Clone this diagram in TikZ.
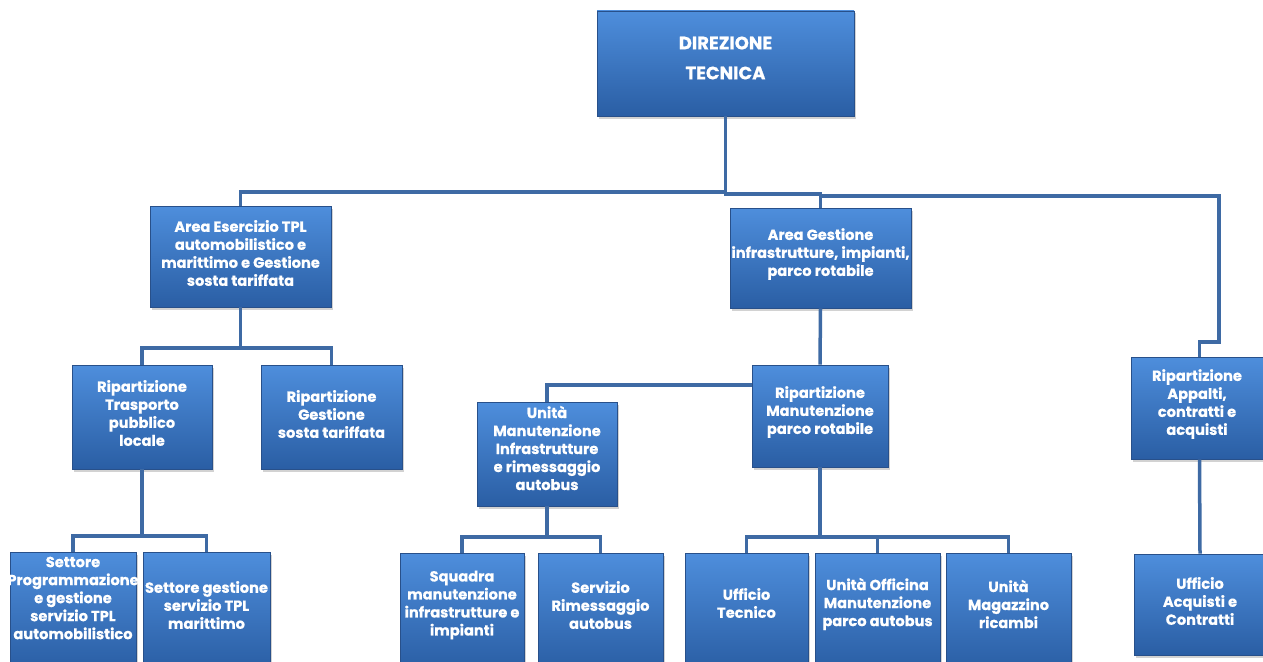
\documentclass[tikz,border=0pt]{standalone}
\usepackage{fontspec}
\setmainfont{Poppins}[BoldFeatures={FakeBold=0.6}]
\usetikzlibrary{shadows}
\definecolor{boxtop}{RGB}{78,142,220}
\definecolor{boxbot}{RGB}{42,94,164}
\definecolor{boxline}{RGB}{40,80,138}
\definecolor{conncol}{RGB}{62,106,164}
\tikzset{
  orgbox/.style={draw=boxline, line width=0.6pt, top color=boxtop, bottom color=boxbot,
    inner sep=0pt, drop shadow={shadow xshift=2pt, shadow yshift=-2.5pt, opacity=0.35}},
  lbl/.style={text=white, font=\bfseries\fontsize{14.6}{18}\selectfont, align=center, inner sep=0pt},
  ttl/.style={text=white, font=\bfseries\fontsize{18}{30}\selectfont, align=center, inner sep=0pt},
  conn/.style={draw=conncol, line width=3.5pt, line join=miter}
}
\begin{document}
\begin{tikzpicture}[x=1pt,y=-1pt]
\fill[white] (0,0) rectangle (1263,661);
\useasboundingbox (0,0) rectangle (1263,661);
% boxes
\node[orgbox, minimum width=257, minimum height=105] (dir) at (725.5,63.5) {};
\node[orgbox, minimum width=181, minimum height=101] (aes) at (240.5,256.5) {};
\node[orgbox, minimum width=181, minimum height=100] (agi) at (820.5,258) {};
\node[orgbox, minimum width=140, minimum height=104] (rtp) at (142,417) {};
\node[orgbox, minimum width=141, minimum height=104] (rgs) at (331.5,417) {};
\node[orgbox, minimum width=126, minimum height=118] (spg) at (73,611) {};
\node[orgbox, minimum width=127, minimum height=118] (sgm) at (206.5,611) {};
\node[orgbox, minimum width=140, minimum height=104] (umi) at (547,454) {};
\node[orgbox, minimum width=136, minimum height=102] (rmp) at (820,416) {};
\node[orgbox, minimum width=124, minimum height=117] (sqm) at (462,611.5) {};
\node[orgbox, minimum width=125, minimum height=117] (sra) at (600.5,611.5) {};
\node[orgbox, minimum width=123, minimum height=117] (uft) at (746.5,611.5) {};
\node[orgbox, minimum width=125, minimum height=117] (uof) at (877.5,611.5) {};
\node[orgbox, minimum width=125, minimum height=117] (umr) at (1008.5,611.5) {};
\node[orgbox, minimum width=137, minimum height=102] (rac) at (1199.5,408) {};
\node[orgbox, minimum width=132, minimum height=101] (uac) at (1200,604.5) {};
% labels
\node[ttl] (dirT) at (725.5,58) {DIREZIONE\\TECNICA};
\node[lbl] (aesT) at (240.5,253) {Area Esercizio TPL\\automobilistico e\\marittimo e Gestione\\sosta tariffata};
\node[lbl] (agiT) at (820.5,254) {Area Gestione\\infrastrutture, impianti,\\parco rotabile};
\node[lbl] (rtpT) at (142,413) {Ripartizione\\Trasporto\\pubblico\\locale};
\node[lbl] (rgsT) at (331.5,414) {Ripartizione\\Gestione\\sosta tariffata};
\node[lbl] (spgT) at (73,598) {Settore\\Programmazione\\e gestione\\servizio TPL\\automobilistico};
\node[lbl] (sgmT) at (206.5,605) {Settore gestione\\servizio TPL\\marittimo};
\node[lbl] (umiT) at (547,448) {Unità\\Manutenzione\\Infrastrutture\\e rimessaggio\\autobus};
\node[lbl] (rmpT) at (820,412) {Ripartizione\\Manutenzione\\parco rotabile};
\node[lbl] (sqmT) at (462,605) {Squadra\\manutenzione\\infrastrutture e\\impianti};
\node[lbl] (sraT) at (600.5,605) {Servizio\\Rimessaggio\\autobus};
\node[lbl] (uftT) at (746.5,603) {Ufficio\\Tecnico};
\node[lbl] (uofT) at (877.5,604) {Unità Officina\\Manutenzione\\parco autobus};
\node[lbl] (umrT) at (1008.5,604) {Unità\\Magazzino\\ricambi};
\node[lbl] (racT) at (1197,404) {Ripartizione\\Appalti,\\contratti e\\acquisti};
\node[lbl] (uacT) at (1200,601) {Ufficio\\Acquisti e\\Contratti};
% bus coordinates
\coordinate (bus1) at (0,192);
\coordinate (bus2) at (0,194);
\coordinate (bus3) at (0,196);
\coordinate (rt2) at (1219,342);
\coordinate (b4) at (0,348);
\coordinate (h1) at (0,385);
\coordinate (b5) at (0,536);
\coordinate (b6) at (0,537);
% connectors
\draw[conn] (aes.north) |- (dir.south |- bus1) -- (dir.south);
\draw[conn] (dir.south |- bus1) -- (dir.south |- bus2) -| (agi.north);
\draw[conn] (agi.north |- bus2) -- (agi.north |- bus3) -| (rt2) -| (rac.north);
\draw[conn] (aes.south) -- (aes.south |- b4);
\draw[conn] (rtp.north) |- (rgs.north |- b4) -- (rgs.north);
\draw[conn] (rtp.south) -- (rtp.south |- b5);
\draw[conn] (spg.north) |- (sgm.north |- b5) -- (sgm.north);
\draw[conn] (agi.south) -- (rmp.north);
\draw[conn] (rmp.west |- h1) -| (umi.north);
\draw[conn] (umi.south) -- (umi.south |- b6);
\draw[conn] (sqm.north) |- (sra.north |- b6) -- (sra.north);
\draw[conn] (rmp.south) -- (rmp.south |- b6);
\draw[conn] (uft.north) |- (umr.north |- b6) -- (umr.north);
\draw[conn] (uof.north) -- (uof.north |- b6);
\draw[conn] (rac.south) -- (uac.north);
\end{tikzpicture}
\end{document}
